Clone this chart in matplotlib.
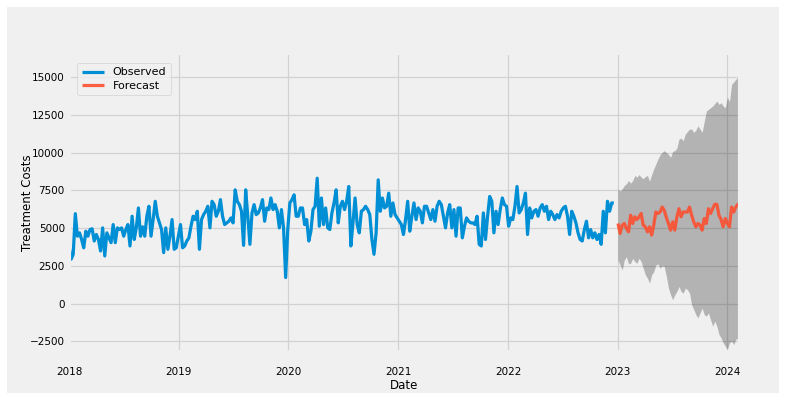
import numpy as np
import pandas as pd
import matplotlib
matplotlib.use('Agg')
from matplotlib import pyplot as plt
from matplotlib.patches import Rectangle

plt.style.use('fivethirtyeight')

# weekly observed treatment costs, 2018-2022
obs_2018 = [3820, 2940, 3270, 5960, 4470, 4690, 4250, 3700, 4800, 4470, 4910, 4960, 4150,
            4580, 4250, 3490, 5020, 3160, 4690, 4360, 4040, 5240, 4040, 5020, 4910, 5020,
            4470, 4910, 5240, 3820, 5790, 4250, 5020, 6340, 4470, 5090, 4470, 5790, 6450,
            4470, 5570, 6780, 5790, 5350, 4910, 3380, 5020, 3600, 4470, 5570, 3600, 3700]
obs_2019 = [4470, 5240, 3700, 3820, 4150, 4360, 5130, 5790, 5570, 6120, 3600, 5570, 5900,
            6120, 6450, 5020, 6780, 6560, 5790, 6120, 6890, 5790, 5240, 5350, 5460, 5680,
            5350, 7540, 6780, 6560, 6120, 3860, 7540, 5790, 3930, 6010, 6560, 5900, 6010,
            6340, 6890, 5460, 6340, 6230, 7000, 6230, 6560, 6120, 5020, 6230, 5020, 1730]
obs_2020 = [4910, 6670, 6890, 7210, 5790, 5790, 6340, 6340, 5240, 5570, 4150, 4800, 6230,
            6450, 8310, 5130, 7000, 5240, 6340, 5020, 4910, 6010, 6670, 7540, 5350, 6450,
            6780, 6230, 6780, 7760, 3820, 5350, 7000, 5240, 4690, 6120, 6230, 6450, 6230,
            5900, 4250, 3270, 4690, 8200, 6120, 7000, 6340, 6450, 7320, 5790, 6670, 5900]
obs_2021 = [5680, 5460, 5240, 4580, 5570, 6780, 4800, 5790, 6670, 5570, 6340, 6120, 5350,
            6450, 6450, 6010, 5570, 6230, 5460, 6450, 6780, 6560, 5790, 5020, 6010, 6560,
            5020, 6230, 4470, 6340, 6340, 4360, 5130, 5680, 5460, 5350, 5350, 5240, 5790,
            3930, 3820, 6010, 4250, 5790, 7100, 6780, 4690, 6120, 5240, 6230, 7000, 6560]
obs_2022 = [6450, 5130, 5680, 5570, 6450, 7760, 6010, 6230, 6670, 7320, 4580, 6340, 5680,
            6120, 6230, 5790, 6340, 6560, 6120, 6450, 5570, 6120, 5900, 5570, 5900, 5680,
            6120, 6340, 6450, 5790, 4580, 6120, 5790, 5350, 4690, 4250, 4150, 4910, 5460,
            4360, 4910, 4360, 4690, 4250, 4580, 3930, 6120, 4690, 6780, 6120, 6670, 6670]
observed = obs_2018 + obs_2019 + obs_2020 + obs_2021 + obs_2022

# weekly forecast with confidence interval, 2023 - Feb 2024
forecast = [5310, 4650, 5200, 5310, 4980, 4760, 5860, 5310, 5750, 5570, 5750, 5970, 5200,
            5090, 4760, 5090, 4540, 5200, 6070, 5970, 6070, 6400, 6180, 5700, 5310, 4870,
            5420, 4870, 5750, 6290, 5750, 6070, 6070, 6070, 6400, 5860, 5420, 5090, 5310,
            5200, 4870, 5640, 5310, 6290, 5970, 6290, 6580, 6580, 5860, 5570, 5090, 5640,
            5310, 5090, 6400, 6070, 6400, 6580, 6670]
lower = [2890, 2570, 2240, 2890, 3110, 2630, 2680, 3000, 2790, 2680, 3000, 2790, 2350,
         1910, 1690, 1360, 1910, 2130, 2570, 2630, 2350, 2500, 2460, 1800, 1030, 590,
         260, 590, 810, 1140, 810, 700, 1030, 920, 700, -70, -390, -720, -940,
         -610, -290, -720, -830, -610, -1050, -1490, -1160, -1490, -2040, -2260, -2590, -2810,
         -3030, -2590, -2480, -2700, -2370, -2260, -2150]
upper = [7610, 7460, 7610, 7830, 7940, 8160, 7980, 8160, 8490, 8380, 8550, 8380, 8270,
         8420, 8490, 8110, 8550, 8930, 9250, 9580, 9870, 10020, 10130, 10020, 9870, 9690,
         10090, 10130, 10310, 10900, 10970, 10790, 11230, 11400, 11560, 11560, 11340, 11490, 11780,
         11560, 11340, 12060, 12760, 12870, 12980, 13090, 13250, 13420, 13200, 13310, 13090, 12980,
         13680, 13380, 14520, 14690, 14850, 15000, 15290]

obs_dates = pd.date_range('2018-01-01', periods=len(observed), freq='W-MON')
fc_dates = pd.date_range('2023-01-02', periods=len(forecast), freq='W-MON')

fig = plt.figure(figsize=(7.85, 4.01), dpi=100)
fig.patch.set_facecolor('white')
fig.patches.append(Rectangle((7 / 785, 8 / 401), 772 / 785, 386 / 401,
                             transform=fig.transFigure, facecolor='#f0f0f0',
                             edgecolor='none', zorder=-10))

ax = fig.add_axes([69 / 785, 49 / 401, 671 / 785, 299 / 401])
ax.plot(obs_dates, observed, label='Observed', color='#008fd5', lw=2.3)
ax.plot(fc_dates, forecast, label='Forecast', color='#fc4f30', lw=2.3, alpha=.9)
ax.fill_between(fc_dates, lower, upper, color='k', alpha=.25, lw=0)

ax.set_xlim(obs_dates[0], fc_dates[-1])
ax.set_ylim(-3200, 16600)
ax.set_yticks([-2500, 0, 2500, 5000, 7500, 10000, 12500, 15000])
ax.xaxis.set_major_locator(matplotlib.dates.YearLocator())
ax.xaxis.set_major_formatter(matplotlib.dates.DateFormatter('%Y'))
ax.tick_params(axis='x', labelsize=7.5, length=0, pad=11)
ax.tick_params(axis='y', labelsize=7.5, length=0, pad=3)
ax.grid(color='#d2d2d2', lw=0.9)

ax.set_xlabel('Date', fontsize=8.5, labelpad=1)
ax.set_ylabel('Treatment Costs', fontsize=8.5)
ax.yaxis.set_label_coords(-0.052, 0.5)
ax.legend(loc='upper left', fontsize=8, handlelength=2.0, borderpad=0.4,
          labelspacing=0.3, bbox_to_anchor=(0.004, 0.985))

plt.savefig('out.png', dpi=100, facecolor='white')
